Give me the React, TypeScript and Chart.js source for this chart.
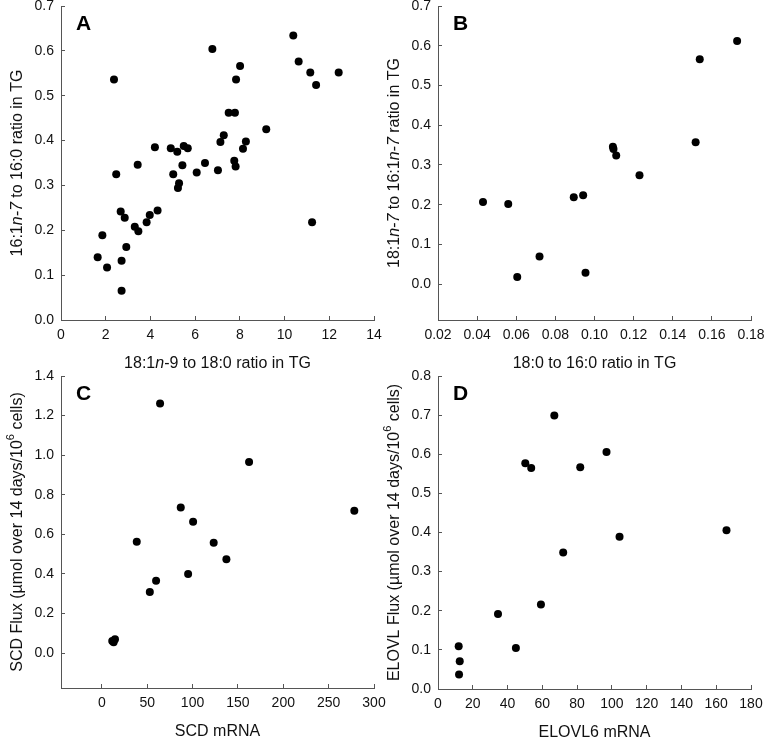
import React, { useEffect, useRef } from 'react';
import { Chart, registerables } from 'chart.js';

Chart.register(...registerables);

const FAMILY = '"Liberation Sans", Arial, Helvetica, sans-serif';
const TEXT = '#111111';
const AXIS = '#555555';

// Panel A
const aX = [1.64, 1.85, 2.06, 2.37, 2.47, 2.67, 2.85, 2.71, 2.71, 2.92, 3.30, 3.43, 3.46, 3.83, 3.97, 4.20, 4.32, 4.91, 5.02, 5.20, 5.28, 5.23, 5.43, 5.49, 5.67, 6.07, 6.44, 6.77, 7.02, 7.13, 7.28, 7.50, 7.78, 7.75, 7.81, 7.83, 8.01, 8.14, 8.27, 9.18, 10.39, 10.63, 11.15, 11.23, 11.41, 12.42];
const aY = [0.140, 0.189, 0.117, 0.536, 0.325, 0.242, 0.228, 0.132, 0.065, 0.163, 0.208, 0.346, 0.198, 0.218, 0.234, 0.385, 0.244, 0.383, 0.325, 0.375, 0.305, 0.294, 0.345, 0.388, 0.383, 0.329, 0.350, 0.604, 0.334, 0.397, 0.412, 0.462, 0.462, 0.355, 0.342, 0.536, 0.566, 0.382, 0.398, 0.425, 0.634, 0.576, 0.552, 0.218, 0.524, 0.552];
const aXTicks = [0, 2, 4, 6, 8, 10, 12, 14];
const aYTicks = [0, 0.1, 0.2, 0.3, 0.4, 0.5, 0.6, 0.7];

// Panel B
const bX = [0.0430, 0.0559, 0.0605, 0.0719, 0.0894, 0.0942, 0.0954, 0.1094, 0.1097, 0.1111, 0.1230, 0.1517, 0.1538, 0.1729];
const bY = [0.207, 0.202, 0.018, 0.070, 0.219, 0.224, 0.029, 0.346, 0.340, 0.324, 0.274, 0.357, 0.566, 0.612];
const bXTicks = [0.02, 0.04, 0.06, 0.08, 0.10, 0.12, 0.14, 0.16, 0.18];
const bYTicks = [0, 0.1, 0.2, 0.3, 0.4, 0.5, 0.6, 0.7];

// Panel C
const cX = [11.5, 13.0, 14.5, 38.5, 52.9, 59.8, 64.2, 87.0, 95.1, 100.6, 123.3, 137.3, 162.3, 278.3];
const cY = [0.062, 0.055, 0.070, 0.563, 0.309, 0.366, 1.261, 0.736, 0.400, 0.664, 0.558, 0.474, 0.966, 0.719];
const cXTicks = [0, 50, 100, 150, 200, 250, 300];
const cYTicks = [0, 0.2, 0.4, 0.6, 0.8, 1.0, 1.2, 1.4];

// Panel D
const dX = [11.9, 12.5, 12.1, 34.5, 44.8, 50.2, 53.6, 59.2, 66.9, 72.0, 81.8, 96.9, 104.4, 165.9];
const dY = [0.109, 0.071, 0.037, 0.192, 0.105, 0.577, 0.565, 0.216, 0.699, 0.349, 0.567, 0.606, 0.389, 0.406];
const dXTicks = [0, 20, 40, 60, 80, 100, 120, 140, 160, 180];
const dYTicks = [0, 0.1, 0.2, 0.3, 0.4, 0.5, 0.6, 0.7, 0.8];

type Seg = { t: string; i?: boolean; sup?: boolean };

interface PanelDef {
  letter: string;
  xs: number[];
  ys: number[];
  xTicks: number[];
  yTicks: number[];
  xMin: number;
  xMax: number;
  yMin: number;
  yMax: number;
  xDec: number;
  yDec: number;
  xTitle: Seg[];
  yTitle: Seg[];
  area: { left: number; top: number; right: number; bottom: number };
}

const panels: PanelDef[] = [
  {
    letter: 'A', xs: aX, ys: aY, xTicks: aXTicks, yTicks: aYTicks,
    xMin: 0, xMax: 14, yMin: 0, yMax: 0.7, xDec: 0, yDec: 1,
    xTitle: [{ t: '18:1' }, { t: 'n', i: true }, { t: '-9 to 18:0 ratio in TG' }],
    yTitle: [{ t: '16:1' }, { t: 'n-7', i: true }, { t: ' to 16:0 ratio in TG' }],
    area: { left: 61, top: 6, right: 374, bottom: 320 },
  },
  {
    letter: 'B', xs: bX, ys: bY, xTicks: bXTicks, yTicks: bYTicks,
    xMin: 0.02, xMax: 0.18, yMin: -0.09, yMax: 0.7, xDec: 2, yDec: 1,
    xTitle: [{ t: '18:0 to 16:0 ratio in TG' }],
    yTitle: [{ t: '18:1' }, { t: 'n-7', i: true }, { t: ' to 16:1' }, { t: 'n-7', i: true }, { t: ' ratio in TG' }],
    area: { left: 438, top: 6, right: 751, bottom: 320 },
  },
  {
    letter: 'C', xs: cX, ys: cY, xTicks: cXTicks, yTicks: cYTicks,
    xMin: -45, xMax: 300, yMin: -0.176, yMax: 1.4, xDec: 0, yDec: 1,
    xTitle: [{ t: 'SCD mRNA' }],
    yTitle: [{ t: 'SCD Flux (\u00b5mol over 14 days/10' }, { t: '6', sup: true }, { t: ' cells)' }],
    area: { left: 61, top: 376, right: 374, bottom: 688 },
  },
  {
    letter: 'D', xs: dX, ys: dY, xTicks: dXTicks, yTicks: dYTicks,
    xMin: 0, xMax: 180, yMin: 0, yMax: 0.8, xDec: 0, yDec: 1,
    xTitle: [{ t: 'ELOVL6 mRNA' }],
    yTitle: [{ t: 'ELOVL Flux (\u00b5mol over 14 days/10' }, { t: '6', sup: true }, { t: ' cells)' }],
    area: { left: 438, top: 376, right: 751, bottom: 689 },
  },
];

const PAD_L = 70;
const PAD_T = 20;
const PAD_R = 40;
const PAD_B = 70;
const Y_AXIS_W = 40;
const X_AXIS_H = 30;

function drawRich(ctx: CanvasRenderingContext2D, segs: Seg[], cx: number, cy: number, size: number, rotate: boolean) {
  ctx.save();
  ctx.translate(cx, cy);
  if (rotate) ctx.rotate(-Math.PI / 2);
  const fontFor = (s: Seg) => `${s.i ? 'italic ' : ''}${s.sup ? Math.round(size * 0.7) : size}px ${FAMILY}`;
  let total = 0;
  for (const s of segs) {
    ctx.font = fontFor(s);
    total += ctx.measureText(s.t).width;
  }
  let x = -total / 2;
  ctx.textBaseline = 'middle';
  ctx.textAlign = 'left';
  ctx.fillStyle = TEXT;
  for (const s of segs) {
    ctx.font = fontFor(s);
    ctx.fillText(s.t, x, s.sup ? -size * 0.42 : 0);
    x += ctx.measureText(s.t).width;
  }
  ctx.restore();
}

function Panel({ def }: { def: PanelDef }) {
  const ref = useRef<HTMLCanvasElement | null>(null);
  const { area } = def;
  const width = area.right - area.left + PAD_L + PAD_R;
  const height = area.bottom - area.top + PAD_T + PAD_B;
  const canvasLeft = area.left - PAD_L;
  const canvasTop = area.top - PAD_T;

  useEffect(() => {
    if (!ref.current) return;
    const decor = {
      id: 'decor' + def.letter,
      afterDraw(chart: any) {
        const ctx: CanvasRenderingContext2D = chart.ctx;
        const ca = chart.chartArea;
        ctx.save();
        ctx.font = `bold 21px ${FAMILY}`;
        ctx.fillStyle = '#000';
        ctx.textAlign = 'left';
        ctx.textBaseline = 'alphabetic';
        ctx.fillText(def.letter, ca.left + 15, ca.top + 24);
        ctx.restore();
        drawRich(ctx, def.xTitle, (ca.left + ca.right) / 2, ca.bottom + 44, 16, false);
        drawRich(ctx, def.yTitle, ca.left - 43, (ca.top + ca.bottom) / 2, 16, true);
      },
    };
    const chart = new Chart(ref.current, {
      type: 'scatter',
      data: {
        datasets: [
          {
            data: def.xs.map((x, i) => ({ x, y: def.ys[i] })),
            backgroundColor: '#000',
            borderColor: '#000',
            borderWidth: 0,
            pointRadius: 4,
            pointHoverRadius: 4,
          },
        ],
      },
      options: {
        animation: false,
        responsive: false,
        devicePixelRatio: 1,
        layout: { padding: { left: PAD_L - Y_AXIS_W, top: PAD_T, right: PAD_R, bottom: PAD_B - X_AXIS_H } },
        plugins: { legend: { display: false }, tooltip: { enabled: false } },
        scales: {
          x: {
            type: 'linear',
            min: def.xMin,
            max: def.xMax,
            afterBuildTicks: (s: any) => { s.ticks = def.xTicks.map((v) => ({ value: v })); },
            afterFit: (s: any) => { s.height = X_AXIS_H; },
            grid: { display: true, drawOnChartArea: false, drawTicks: true, tickLength: -4, color: AXIS, lineWidth: 1 },
            border: { display: true, color: AXIS, width: 1 },
            ticks: {
              autoSkip: false,
              maxRotation: 0,
              padding: 11,
              color: TEXT,
              font: { family: FAMILY, size: 14 },
              callback: (v: any) => Number(v).toFixed(def.xDec),
            },
          },
          y: {
            type: 'linear',
            min: def.yMin,
            max: def.yMax,
            afterBuildTicks: (s: any) => { s.ticks = def.yTicks.map((v) => ({ value: v })); },
            afterFit: (s: any) => { s.width = Y_AXIS_W; },
            grid: { display: true, drawOnChartArea: false, drawTicks: true, tickLength: -4, color: AXIS, lineWidth: 1 },
            border: { display: true, color: AXIS, width: 1 },
            ticks: {
              autoSkip: false,
              padding: 11,
              color: TEXT,
              font: { family: FAMILY, size: 14 },
              callback: (v: any) => Number(v).toFixed(def.yDec),
            },
          },
        },
      },
      plugins: [decor],
    });
    return () => chart.destroy();
  }, [def]);

  return (
    <canvas
      ref={ref}
      width={width}
      height={height}
      style={{ position: 'absolute', left: canvasLeft, top: canvasTop, width, height }}
    />
  );
}

export default function App() {
  return (
    <div style={{ position: 'absolute', left: 0, top: 0, width: 766, height: 740, overflow: 'hidden', background: '#fff' }}>
      {panels.map((p) => (
        <Panel key={p.letter} def={p} />
      ))}
    </div>
  );
}
